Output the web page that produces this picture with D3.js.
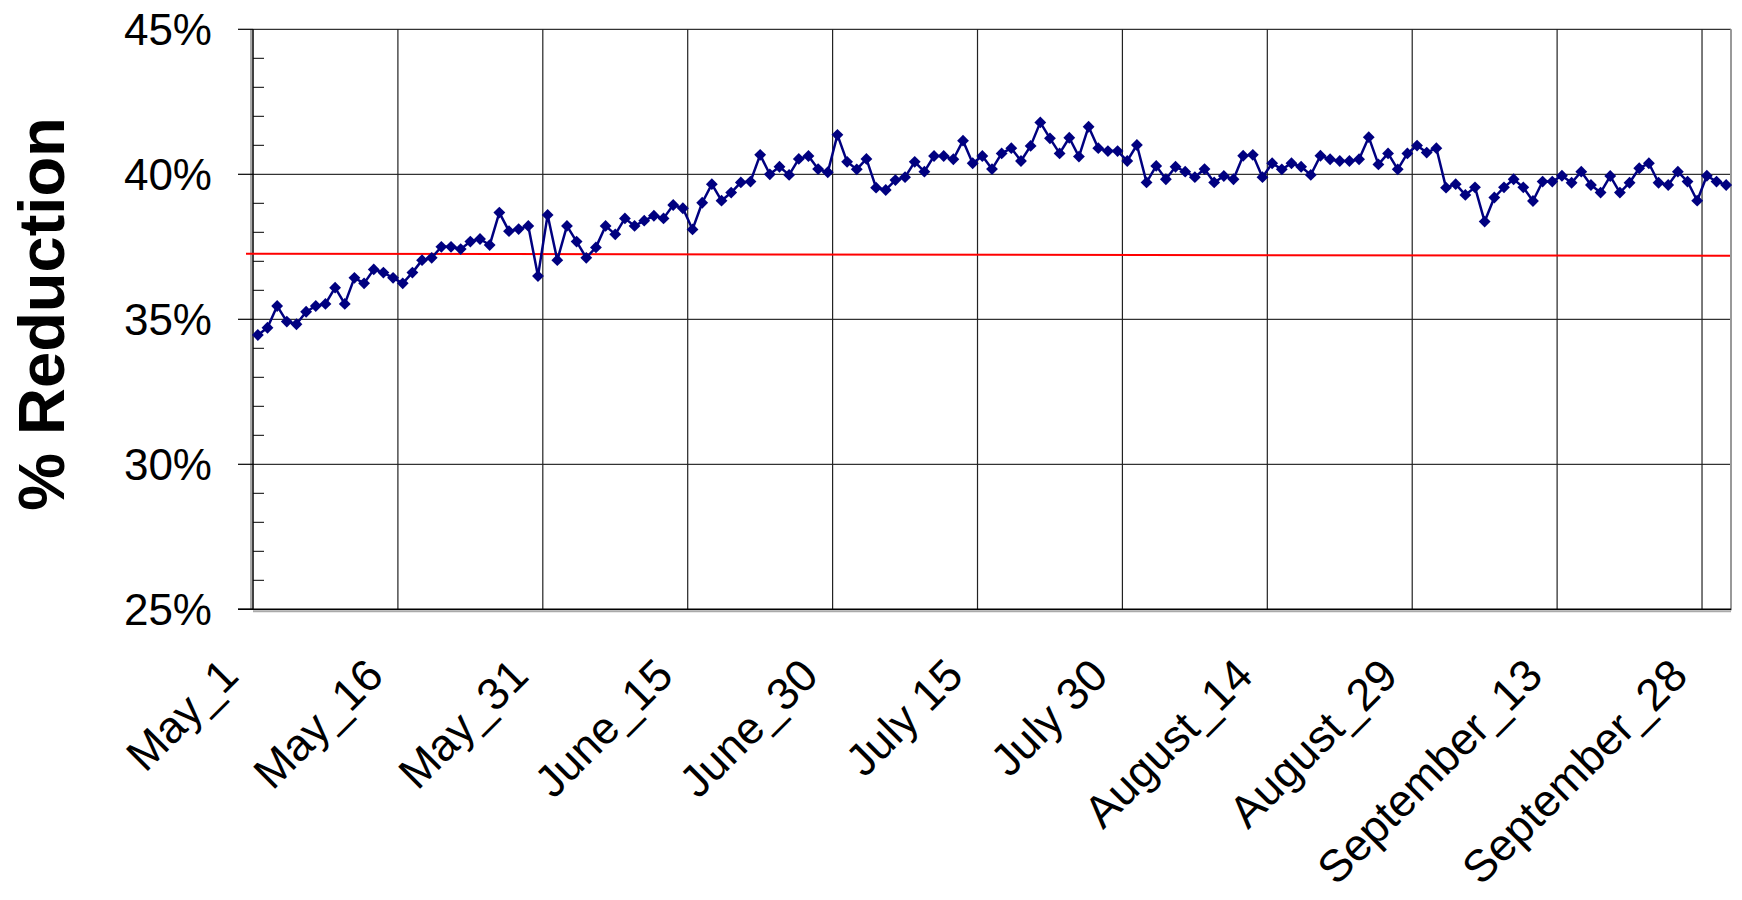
<!DOCTYPE html>
<html>
<head>
<meta charset="utf-8">
<script src="https://cdn.jsdelivr.net/npm/d3@7"></script>
<style>
  body { margin: 0; background: #fff; }
  svg { display: block; font-family: "Liberation Sans", Arial, sans-serif; }
</style>
</head>
<body>
<div id="grafico"></div>
<script>
// daily % reduction, May 1 .. September 30
const valores = [
  34.46, 34.71, 35.46, 34.92, 34.83, 35.26, 35.46, 35.53, 36.09, 35.53,
  36.43, 36.24, 36.72, 36.61, 36.43, 36.24, 36.61, 37.04, 37.12, 37.50,
  37.50, 37.42, 37.68, 37.77, 37.56, 38.68, 38.04, 38.11, 38.22, 36.49,
  38.60, 37.04, 38.22, 37.68, 37.12, 37.48, 38.22, 37.93, 38.48, 38.22,
  38.40, 38.57, 38.48, 38.94, 38.83, 38.10, 39.02, 39.66, 39.09, 39.37,
  39.72, 39.75, 40.67, 40.00, 40.26, 39.98, 40.53, 40.63, 40.18, 40.07,
  41.36, 40.43, 40.17, 40.53, 39.54, 39.46, 39.80, 39.90, 40.43, 40.09,
  40.63, 40.63, 40.52, 41.16, 40.38, 40.63, 40.18, 40.72, 40.90, 40.46,
  40.98, 41.79, 41.24, 40.72, 41.26, 40.61, 41.64, 40.90, 40.80, 40.80,
  40.46, 41.01, 39.72, 40.29, 39.83, 40.26, 40.09, 39.90, 40.18, 39.72,
  39.94, 39.83, 40.64, 40.67, 39.90, 40.38, 40.17, 40.38, 40.26, 39.98,
  40.64, 40.52, 40.46, 40.46, 40.52, 41.28, 40.34, 40.72, 40.17, 40.72,
  40.99, 40.75, 40.90, 39.54, 39.66, 39.29, 39.55, 38.37, 39.20, 39.55,
  39.83, 39.55, 39.08, 39.75, 39.75, 39.95, 39.71, 40.09, 39.63, 39.37,
  39.94, 39.37, 39.71, 40.21, 40.38, 39.71, 39.63, 40.09, 39.75, 39.09,
  39.95, 39.75, 39.63
];
const etiquetasX = ["May_1", "May_16", "May_31", "June_15", "June_30", "July 15",
  "July 30", "August_14", "August_29", "September_13", "September_28"];
const cadaCuantos = 15;
const etiquetasY = [25, 30, 35, 40, 45];
const lineaRoja = [37.26, 37.19]; // start, end

const ancho = 1742, alto = 900;
const izq = 253, der = 1731, arriba = 29.3, abajo = 609.3;

const $svg = d3.select("#grafico").append("svg")
  .attr("width", ancho).attr("height", alto);
$svg.append("rect").attr("width", ancho).attr("height", alto).attr("fill", "#fff");

const x = d3.scaleBand().domain(d3.range(valores.length)).range([izq, der]);
const y = d3.scaleLinear().domain([25, 45]).range([abajo, arriba]);
const centro = i => x(i) + x.bandwidth() / 2;

// horizontal gridlines
$svg.append("g").selectAll("line").data(etiquetasY.slice(1)).join("line")
  .attr("x1", izq).attr("x2", der)
  .attr("y1", d => y(d)).attr("y2", d => y(d))
  .attr("stroke", "#000").attr("stroke-width", 1);

// vertical gridlines between categories
const cortes = d3.range(cadaCuantos, valores.length, cadaCuantos);
$svg.append("g").selectAll("line").data(cortes).join("line")
  .attr("x1", d => x(d)).attr("x2", d => x(d))
  .attr("y1", arriba).attr("y2", abajo)
  .attr("stroke", "#222").attr("stroke-width", 1.2);

// right border
$svg.append("line").attr("x1", der).attr("x2", der).attr("y1", arriba).attr("y2", abajo + 1)
  .attr("stroke", "#999").attr("stroke-width", 2);

// axes with shadow
$svg.append("line").attr("x1", izq - 2).attr("x2", izq - 2).attr("y1", arriba).attr("y2", abajo)
  .attr("stroke", "#aaa").attr("stroke-width", 2);
$svg.append("line").attr("x1", izq).attr("x2", izq).attr("y1", arriba).attr("y2", abajo)
  .attr("stroke", "#000").attr("stroke-width", 1.5);
$svg.append("line").attr("x1", izq).attr("x2", der).attr("y1", abajo + 2).attr("y2", abajo + 2)
  .attr("stroke", "#aaa").attr("stroke-width", 2);
$svg.append("line").attr("x1", izq - 15).attr("x2", der).attr("y1", abajo).attr("y2", abajo)
  .attr("stroke", "#000").attr("stroke-width", 1.5);

// y ticks: major outside, minor inside
$svg.append("g").selectAll("line").data(etiquetasY).join("line")
  .attr("x1", izq - 15).attr("x2", izq)
  .attr("y1", d => y(d)).attr("y2", d => y(d))
  .attr("stroke", "#000").attr("stroke-width", 1.2);
const menores = d3.range(26, 45).filter(d => d % 5 !== 0);
$svg.append("g").selectAll("line").data(menores).join("line")
  .attr("x1", izq).attr("x2", izq + 11)
  .attr("y1", d => y(d)).attr("y2", d => y(d))
  .attr("stroke", "#000").attr("stroke-width", 1);

// y labels
$svg.append("g").selectAll("text").data(etiquetasY).join("text")
  .attr("x", 212).attr("y", d => y(d)).attr("dy", "0.36em")
  .attr("text-anchor", "end").attr("font-size", 44).attr("fill", "#000")
  .text(d => d + "%");

// y title
$svg.append("text")
  .attr("transform", "translate(64,314) rotate(-90)")
  .attr("text-anchor", "middle").attr("font-size", 65).attr("font-weight", "bold")
  .attr("fill", "#000").text("% Reduction");

// x labels, rotated
$svg.append("g").selectAll("text").data(etiquetasX).join("text")
  .attr("transform", (d, k) => `translate(${centro(k * cadaCuantos) - 17},678) rotate(-45)`)
  .attr("text-anchor", "end").attr("font-size", 45).attr("fill", "#000")
  .text(d => d);

// red reference line
$svg.append("line")
  .attr("x1", izq - 7).attr("x2", der - 1)
  .attr("y1", y(lineaRoja[0])).attr("y2", y(lineaRoja[1]))
  .attr("stroke", "#ff0000").attr("stroke-width", 2);

// series
const linea = d3.line().x((d, i) => centro(i)).y(d => y(d));
$svg.append("path").datum(valores)
  .attr("d", linea).attr("fill", "none")
  .attr("stroke", "#000080").attr("stroke-width", 2.5).attr("stroke-linejoin", "round");

const diamante = d3.symbol(d3.symbolSquare, 70);
$svg.append("g").selectAll("path").data(valores).join("path")
  .attr("transform", (d, i) => `translate(${centro(i)},${y(d)}) rotate(45)`)
  .attr("d", diamante)
  .attr("fill", "#000080");
</script>
</body>
</html>
